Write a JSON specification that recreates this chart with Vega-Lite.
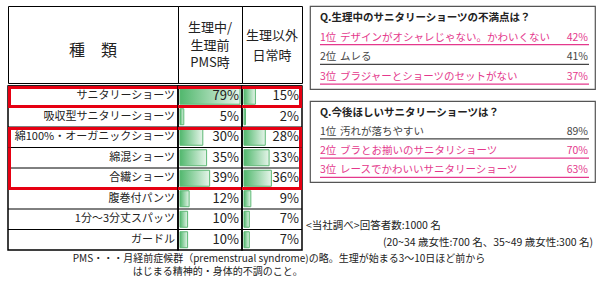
{
  "$schema": "https://vega.github.io/schema/vega-lite/v6.json",
  "padding": {"left": 5, "top": 5, "right": 0, "bottom": 0},
  "background": "white",
  "config": {"view": {"stroke": null}, "font": "Noto Sans CJK JP", "text": {"color": "#222"}, "title": {"font": "Noto Sans CJK JP"}},
  "datasets": {
    "headers": [
      {"col": "type", "label": "種　類"},
      {"col": "pms", "label": "生理中/\n生理前\nPMS時"},
      {"col": "daily", "label": "生理以外\n日常時"}
    ],
    "table": [
      {"cat": "サニタリーショーツ", "pms": 0.79, "daily": 0.15, "box": "single"},
      {"cat": "吸収型サニタリーショーツ", "pms": 0.05, "daily": 0.02, "box": null},
      {"cat": "綿100%・オーガニックショーツ", "pms": 0.30, "daily": 0.28, "box": "first"},
      {"cat": "綿混ショーツ", "pms": 0.35, "daily": 0.33, "box": "middle"},
      {"cat": "合繊ショーツ", "pms": 0.39, "daily": 0.36, "box": "last"},
      {"cat": "腹巻付パンツ", "pms": 0.12, "daily": 0.09, "box": null},
      {"cat": "1分～3分丈スパッツ", "pms": 0.10, "daily": 0.07, "box": null},
      {"cat": "ガードル", "pms": 0.10, "daily": 0.07, "box": null}
    ],
    "questions": [
      {"q": 1, "title": "Q.生理中のサニタリーショーツの不満点は？"},
      {"q": 2, "title": "Q.今後ほしいサニタリーショーツは？"}
    ],
    "answers": [
      {"q": 1, "rank": "1位", "item": "デザインがオシャレじゃない。かわいくない", "pct": 0.42, "hl": "yes"},
      {"q": 1, "rank": "2位", "item": "ムレる", "pct": 0.41, "hl": "no"},
      {"q": 1, "rank": "3位", "item": "ブラジャーとショーツのセットがない", "pct": 0.37, "hl": "yes"},
      {"q": 2, "rank": "1位", "item": "汚れが落ちやすい", "pct": 0.89, "hl": "no"},
      {"q": 2, "rank": "2位", "item": "ブラとお揃いのサニタリショーツ", "pct": 0.70, "hl": "yes"},
      {"q": 2, "rank": "3位", "item": "レースでかわいいサニタリーショーツ", "pct": 0.63, "hl": "yes"}
    ],
    "notes": [
      {"n": "survey", "text": "<当社調べ>回答者数:1000 名"},
      {"n": "breakdown", "text": "(20~34 歳女性:700 名、35~49 歳女性:300 名)"}
    ]
  },
  "title": {
    "text": ["PMS・・・月経前症候群（premenstrual syndrome)の略。生理が始まる3～10日ほど前から", "\u200b　　　　　　はじまる精神的・身体的不調のこと。"],
    "orient": "bottom", "anchor": "start", "dx": 67, "offset": 3, "fontSize": 10, "fontWeight": "normal", "color": "#222", "lineHeight": 13, "baseline": "top", "align": "left"
  },
  "spacing": 1,
  "hconcat": [
    {
      "spacing": 0,
      "vconcat": [
        {
          "spacing": 0,
          "bounds": "flush",
          "hconcat": [
            {"width": 170, "height": 77, "view": {"stroke": "#000"}, "data": {"name": "headers"},
             "transform": [{"filter": "datum.col === 'type'"}],
             "mark": {"type": "text", "fontSize": 16, "align": "center", "baseline": "middle"},
             "encoding": {"text": {"field": "label"}, "x": {"value": 85}, "y": {"value": 45}}},
            {"width": 64, "height": 77, "view": {"stroke": "#000"}, "data": {"name": "headers"},
             "transform": [{"filter": "datum.col === 'pms'"}],
             "mark": {"type": "text", "fontSize": 13, "align": "center", "baseline": "middle", "lineBreak": "\n", "lineHeight": 17.5},
             "encoding": {"text": {"field": "label"}, "x": {"value": 32}, "y": {"value": 22}}},
            {"width": 60, "height": 77, "view": {"stroke": "#000"}, "data": {"name": "headers"},
             "transform": [{"filter": "datum.col === 'daily'"}],
             "mark": {"type": "text", "fontSize": 13, "align": "center", "baseline": "middle", "lineBreak": "\n", "lineHeight": 20},
             "encoding": {"text": {"field": "label"}, "x": {"value": 30}, "y": {"value": 30}}}
          ]
        },
        {
          "spacing": 0,
          "bounds": "flush",
          "hconcat": [
            {
              "width": 170, "height": 164, "view": {"stroke": "#000", "strokeWidth": 1.5}, "data": {"name": "table"},
              "layer": [
                {"mark": {"type": "rule", "color": "#000", "strokeWidth": 1},
                 "encoding": {"y": {"field": "cat", "type": "nominal", "bandPosition": 0, "scale": {"domain": ["サニタリーショーツ", "吸収型サニタリーショーツ", "綿100%・オーガニックショーツ", "綿混ショーツ", "合繊ショーツ", "腹巻付パンツ", "1分～3分丈スパッツ", "ガードル"], "paddingInner": 0, "paddingOuter": 0}, "axis": null}}},
                {"mark": {"type": "text", "align": "right", "baseline": "middle", "fontSize": 11},
                 "encoding": {"y": {"field": "cat", "type": "nominal", "axis": null}, "x": {"value": 167}, "text": {"field": "cat"}}},
                {"transform": [{"filter": "datum.box === 'single' || datum.box === 'first'"}],
                 "mark": {"type": "rule", "color": "#e60012", "strokeWidth": 3, "yOffset": 1.5},
                 "encoding": {"y": {"field": "cat", "type": "nominal", "bandPosition": 0, "axis": null}}},
                {"transform": [{"filter": "datum.box === 'single' || datum.box === 'last'"}],
                 "mark": {"type": "rule", "color": "#e60012", "strokeWidth": 3},
                 "encoding": {"y": {"field": "cat", "type": "nominal", "bandPosition": 1, "axis": null}}},
                {"transform": [{"filter": "datum.box != null"}],
                 "mark": {"type": "rect", "color": "#e60012"},
                 "encoding": {"y": {"field": "cat", "type": "nominal", "axis": null}, "x": {"value": 0}, "x2": {"value": 3}}}
              ]
            },
            {
              "width": 64, "height": 164, "view": {"stroke": "#000", "strokeWidth": 1.5}, "data": {"name": "table"},
              "layer": [
                {"mark": {"type": "rule", "color": "#000", "strokeWidth": 1},
                 "encoding": {"y": {"field": "cat", "type": "nominal", "bandPosition": 0, "scale": {"domain": ["サニタリーショーツ", "吸収型サニタリーショーツ", "綿100%・オーガニックショーツ", "綿混ショーツ", "合繊ショーツ", "腹巻付パンツ", "1分～3分丈スパッツ", "ガードル"], "paddingInner": 0, "paddingOuter": 0}, "axis": null}}},
                {"mark": {"type": "bar", "height": {"band": 0.78}, "fill": {"gradient": "linear", "x1": 0, "y1": 0, "x2": 1, "y2": 0, "stops": [{"offset": 0, "color": "#52b86e"}, {"offset": 1, "color": "#e6f5ea"}]}, "stroke": "#5cb874", "strokeWidth": 1},
                 "encoding": {"y": {"field": "cat", "type": "nominal", "axis": null}, "x": {"field": "pms", "type": "quantitative", "scale": {"domain": [0, 0.8], "range": [2, 62.8]}, "axis": null}}},
                {"mark": {"type": "text", "align": "right", "baseline": "middle", "fontSize": 13},
                 "encoding": {"y": {"field": "cat", "type": "nominal", "axis": null}, "x": {"value": 61}, "text": {"field": "pms", "type": "quantitative", "format": ".0%"}}},
                {"transform": [{"filter": "datum.box === 'single' || datum.box === 'first'"}],
                 "mark": {"type": "rule", "color": "#e60012", "strokeWidth": 3, "yOffset": 1.5},
                 "encoding": {"y": {"field": "cat", "type": "nominal", "bandPosition": 0, "axis": null}}},
                {"transform": [{"filter": "datum.box === 'single' || datum.box === 'last'"}],
                 "mark": {"type": "rule", "color": "#e60012", "strokeWidth": 3},
                 "encoding": {"y": {"field": "cat", "type": "nominal", "bandPosition": 1, "axis": null}}}
              ]
            },
            {
              "width": 60, "height": 164, "view": {"stroke": "#000", "strokeWidth": 1.5}, "data": {"name": "table"},
              "layer": [
                {"mark": {"type": "rule", "color": "#000", "strokeWidth": 1},
                 "encoding": {"y": {"field": "cat", "type": "nominal", "bandPosition": 0, "scale": {"domain": ["サニタリーショーツ", "吸収型サニタリーショーツ", "綿100%・オーガニックショーツ", "綿混ショーツ", "合繊ショーツ", "腹巻付パンツ", "1分～3分丈スパッツ", "ガードル"], "paddingInner": 0, "paddingOuter": 0}, "axis": null}}},
                {"mark": {"type": "bar", "height": {"band": 0.78}, "fill": {"gradient": "linear", "x1": 0, "y1": 0, "x2": 1, "y2": 0, "stops": [{"offset": 0, "color": "#52b86e"}, {"offset": 1, "color": "#e6f5ea"}]}, "stroke": "#5cb874", "strokeWidth": 1},
                 "encoding": {"y": {"field": "cat", "type": "nominal", "axis": null}, "x": {"field": "daily", "type": "quantitative", "scale": {"domain": [0, 0.8], "range": [2, 62.8]}, "axis": null}}},
                {"mark": {"type": "text", "align": "right", "baseline": "middle", "fontSize": 13},
                 "encoding": {"y": {"field": "cat", "type": "nominal", "axis": null}, "x": {"value": 57}, "text": {"field": "daily", "type": "quantitative", "format": ".0%"}}},
                {"transform": [{"filter": "datum.box === 'single' || datum.box === 'first'"}],
                 "mark": {"type": "rule", "color": "#e60012", "strokeWidth": 3, "yOffset": 1.5},
                 "encoding": {"y": {"field": "cat", "type": "nominal", "bandPosition": 0, "axis": null}}},
                {"transform": [{"filter": "datum.box === 'single' || datum.box === 'last'"}],
                 "mark": {"type": "rule", "color": "#e60012", "strokeWidth": 3},
                 "encoding": {"y": {"field": "cat", "type": "nominal", "bandPosition": 1, "axis": null}}},
                {"transform": [{"filter": "datum.box != null"}],
                 "mark": {"type": "rect", "color": "#e60012"},
                 "encoding": {"y": {"field": "cat", "type": "nominal", "axis": null}, "x": {"value": 57}, "x2": {"value": 60}}}
              ]
            }
          ]
        }
      ]
    },
    {
      "spacing": 12,
      "bounds": "flush",
      "vconcat": [
        {
          "width": 285, "height": 83, "view": {"stroke": "#555", "strokeWidth": 1.2},
          "layer": [
            {"data": {"name": "questions"}, "transform": [{"filter": "datum.q === 1"}],
             "mark": {"type": "text", "align": "left", "baseline": "middle", "fontSize": 10.5, "fontWeight": "bold"},
             "encoding": {"y": {"datum": "Q", "type": "ordinal", "scale": {"type": "point", "domain": ["Q", "1位", "2位", "3位"], "padding": 0.6}, "axis": null}, "x": {"value": 10}, "text": {"field": "title"}}},
            {"data": {"name": "answers"}, "transform": [{"filter": "datum.q === 1"}],
             "mark": {"type": "rule", "yOffset": 7, "strokeWidth": 1.2},
             "encoding": {"y": {"field": "rank", "type": "ordinal", "axis": null}, "x": {"value": 10}, "x2": {"value": 279}, "color": {"field": "hl", "type": "nominal", "scale": {"domain": ["yes", "no"], "range": ["#e4388c", "#444"]}, "legend": null}}},
            {"data": {"name": "answers"}, "transform": [{"filter": "datum.q === 1"}],
             "mark": {"type": "text", "align": "left", "baseline": "middle", "fontSize": 10.5},
             "encoding": {"y": {"field": "rank", "type": "ordinal", "axis": null}, "x": {"value": 10}, "text": {"field": "rank"}, "color": {"field": "hl", "type": "nominal", "legend": null}}},
            {"data": {"name": "answers"}, "transform": [{"filter": "datum.q === 1"}],
             "mark": {"type": "text", "align": "left", "baseline": "middle", "fontSize": 10.5},
             "encoding": {"y": {"field": "rank", "type": "ordinal", "axis": null}, "x": {"value": 30}, "text": {"field": "item"}, "color": {"field": "hl", "type": "nominal", "legend": null}}},
            {"data": {"name": "answers"}, "transform": [{"filter": "datum.q === 1"}],
             "mark": {"type": "text", "align": "right", "baseline": "middle", "fontSize": 10.5},
             "encoding": {"y": {"field": "rank", "type": "ordinal", "axis": null}, "x": {"value": 278}, "text": {"field": "pct", "type": "quantitative", "format": ".0%"}, "color": {"field": "hl", "type": "nominal", "legend": null}}}
          ]
        },
        {
          "width": 285, "height": 81, "view": {"stroke": "#555", "strokeWidth": 1.2},
          "layer": [
            {"data": {"name": "questions"}, "transform": [{"filter": "datum.q === 2"}],
             "mark": {"type": "text", "align": "left", "baseline": "middle", "fontSize": 10.5, "fontWeight": "bold"},
             "encoding": {"y": {"datum": "Q", "type": "ordinal", "scale": {"type": "point", "domain": ["Q", "1位", "2位", "3位"], "padding": 0.6}, "axis": null}, "x": {"value": 10}, "text": {"field": "title"}}},
            {"data": {"name": "answers"}, "transform": [{"filter": "datum.q === 2"}],
             "mark": {"type": "rule", "yOffset": 7, "strokeWidth": 1.2},
             "encoding": {"y": {"field": "rank", "type": "ordinal", "axis": null}, "x": {"value": 10}, "x2": {"value": 279}, "color": {"field": "hl", "type": "nominal", "scale": {"domain": ["yes", "no"], "range": ["#e4388c", "#444"]}, "legend": null}}},
            {"data": {"name": "answers"}, "transform": [{"filter": "datum.q === 2"}],
             "mark": {"type": "text", "align": "left", "baseline": "middle", "fontSize": 10.5},
             "encoding": {"y": {"field": "rank", "type": "ordinal", "axis": null}, "x": {"value": 10}, "text": {"field": "rank"}, "color": {"field": "hl", "type": "nominal", "legend": null}}},
            {"data": {"name": "answers"}, "transform": [{"filter": "datum.q === 2"}],
             "mark": {"type": "text", "align": "left", "baseline": "middle", "fontSize": 10.5},
             "encoding": {"y": {"field": "rank", "type": "ordinal", "axis": null}, "x": {"value": 30}, "text": {"field": "item"}, "color": {"field": "hl", "type": "nominal", "legend": null}}},
            {"data": {"name": "answers"}, "transform": [{"filter": "datum.q === 2"}],
             "mark": {"type": "text", "align": "right", "baseline": "middle", "fontSize": 10.5},
             "encoding": {"y": {"field": "rank", "type": "ordinal", "axis": null}, "x": {"value": 278}, "text": {"field": "pct", "type": "quantitative", "format": ".0%"}, "color": {"field": "hl", "type": "nominal", "legend": null}}}
          ]
        },
        {
          "width": 285, "height": 54, "data": {"name": "notes"},
          "layer": [
            {"transform": [{"filter": "datum.n === 'survey'"}],
             "mark": {"type": "text", "align": "left", "baseline": "middle", "fontSize": 10.5, "dy": 14},
             "encoding": {"y": {"field": "n", "type": "nominal", "scale": {"type": "point", "domain": ["survey", "breakdown"], "padding": 1}, "axis": null}, "x": {"value": -4}, "text": {"field": "text"}}},
            {"transform": [{"filter": "datum.n === 'breakdown'"}],
             "mark": {"type": "text", "align": "right", "baseline": "middle", "fontSize": 10.5, "dy": 13},
             "encoding": {"y": {"field": "n", "type": "nominal", "axis": null}, "x": {"value": 283}, "text": {"field": "text"}}}
          ]
        }
      ]
    }
  ]
}
